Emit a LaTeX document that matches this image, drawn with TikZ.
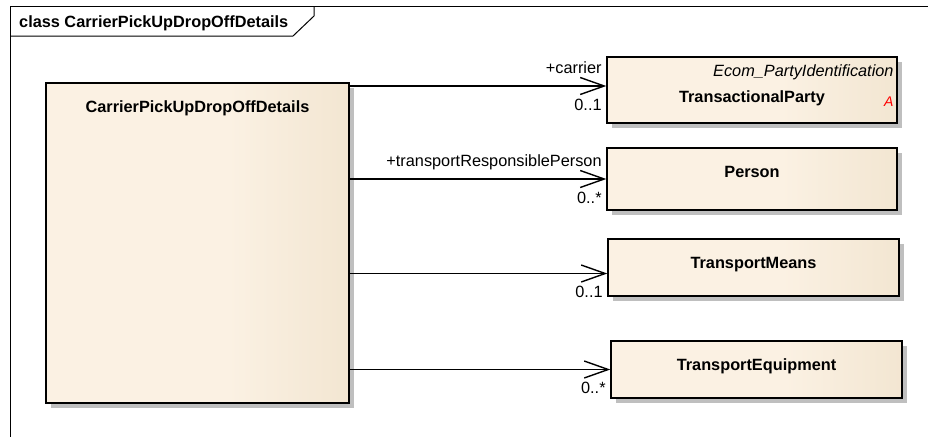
\documentclass[tikz,border=0pt]{standalone}
\usepackage{fontspec}
\setmainfont{Liberation Sans}
\usetikzlibrary{positioning,arrows.meta,shadows}
\definecolor{umlLight}{RGB}{251,241,227}
\definecolor{umlDark}{RGB}{232,216,188}
\pgfdeclarehorizontalshading{umlFill}{100bp}{color(0bp)=(umlLight); color(55bp)=(umlLight); color(100bp)=(umlDark)}

\begin{document}
\begin{tikzpicture} [
      x=1pt, y=1pt,
      font=\fontsize{16.3}{19}\selectfont,
      umlclass/.style={draw, rectangle, line width=1.4pt, shade, shading=umlFill, inner sep=0pt,
        drop shadow={shadow xshift=5pt, shadow yshift=-5pt, fill=black!25, opacity=1}},
      classname/.style={anchor=base, inner sep=0pt, font=\fontsize{16.3}{19}\selectfont\bfseries},
      assoc/.style={line width=1.4pt, -{Straight Barb[length=24pt, width=17pt]}},
      role/.style={anchor=base east, inner sep=0pt, xshift=-4pt, yshift=13pt},
      mult/.style={anchor=base east, inner sep=0pt, xshift=-4pt, yshift=-24pt}
   ]
    \useasboundingbox (0, 0) rectangle (928, -437);
    \draw[line width=1pt] (928, -6) -- (10, -6) -- (10, -437);
    \draw[line width=1pt] (10, -36) -- (293, -36) -- (314, -16) -- (314, -6);
    \node[anchor=base west, inner sep=0pt, font=\fontsize{16.3}{19}\selectfont\bfseries] (frameTitle) at (19, -27) {class CarrierPickUpDropOffDetails};

    \node[umlclass, minimum width=303pt, minimum height=320pt] (details) at (197.5, -243) {};
    \node[classname] at ([yshift=-30pt]details.north) {CarrierPickUpDropOffDetails};

    \node[umlclass, minimum width=290pt, minimum height=66pt] (party) at (752, -90) {};
    \node[anchor=base east, inner sep=0pt, font=\fontsize{16.3}{19}\selectfont\itshape] at ([xshift=-4pt, yshift=-20pt]party.north east) {Ecom\_PartyIdentification};
    \node[classname] at ([yshift=-46pt]party.north) {TransactionalParty};
    \node[anchor=base east, inner sep=0pt, text=red, font=\fontsize{14}{17}\selectfont\itshape] at ([xshift=-4pt, yshift=-50pt]party.north east) {A};

    \node[umlclass, minimum width=290pt, minimum height=62pt, below of=party, node distance=89pt] (person) {};
    \node[classname] at ([yshift=-30pt]person.north) {Person};

    \node[umlclass, minimum width=291pt, minimum height=57pt, below of=person, node distance=88.5pt, xshift=1.5pt] (means) {};
    \node[classname] at ([yshift=-30pt]means.north) {TransportMeans};

    \node[umlclass, minimum width=291pt, minimum height=57pt, below of=means, node distance=102pt, xshift=3pt] (equipment) {};
    \node[classname] at ([yshift=-30pt]equipment.north) {TransportEquipment};

    \coordinate (partyIn) at ([yshift=4pt]party.west);
    \coordinate (meansIn) at ([yshift=-6pt]means.west);
    \draw[assoc] (details.east |- partyIn) -- (partyIn) node[role]{+carrier} node[mult]{0..1};
    \draw[assoc] (details.east |- person.west) -- (person.west) node[role]{+transportResponsiblePerson} node[mult]{0..*};
    \draw[assoc] (details.east |- meansIn) -- (meansIn) node[mult]{0..1};
    \draw[assoc] (details.east |- equipment.west) -- (equipment.west) node[mult]{0..*};

  \end{tikzpicture}
\end{document}
